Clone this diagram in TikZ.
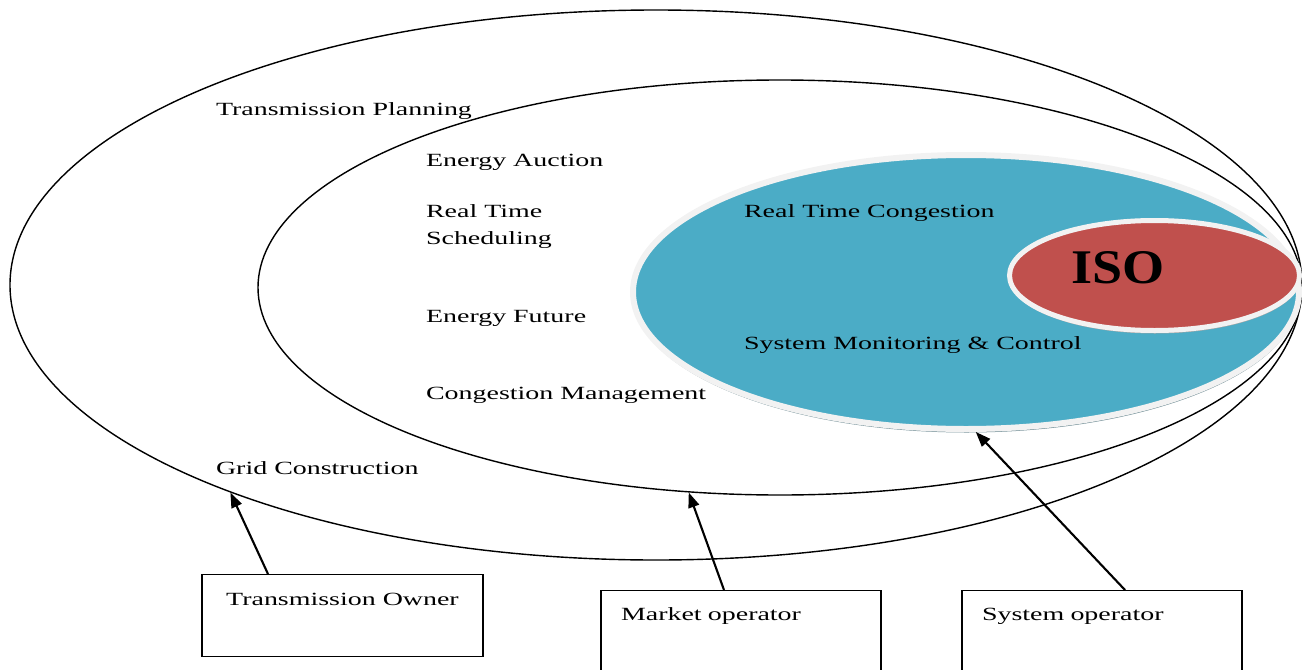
\documentclass[tikz,border=0pt]{standalone}
\usepackage{fontspec}
\setmainfont{Liberation Serif}[FakeStretch=1.5]
\newfontfamily\isofont{Liberation Serif}[FakeStretch=1.12]
\usetikzlibrary{arrows.meta,shapes.geometric,shadows}
\definecolor{isoblue}{HTML}{4BACC6}
\definecolor{isored}{HTML}{C0504D}
\definecolor{rimgray}{HTML}{F2F2F2}
\tikzset{
  ring/.style = {ellipse, draw=black, line width=0.8pt, inner sep=0pt},% anneau vide
  ring_b/.style = {ellipse, inner sep=0pt, fill=isoblue, draw=rimgray,
    line width=0.12cm, drop shadow={shadow xshift=0.01cm,
    shadow yshift=-0.07cm, fill=gray!70!isoblue, opacity=1}},% anneau bleu
  ring_r/.style = {ellipse, inner sep=0pt, fill=isored, draw=rimgray,
    line width=0.1cm, drop shadow={shadow xshift=0.01cm,
    shadow yshift=-0.06cm, fill=gray!70, opacity=1}},% anneau rouge
  lbl/.style = {inner sep=0pt, anchor=base west,
    font=\fontsize{10.6}{15.3}\selectfont},% texte
  role/.style = {draw=black, line width=0.7pt, inner xsep=0.4cm, inner ysep=0pt,
    font=\fontsize{10.6}{15.3}\selectfont, anchor=north}% boite d'acteur
}
\begin{document}
\begin{tikzpicture}[->,>={Triangle[length=0.3cm,width=0.22cm]},
                    line width=1.2pt]
  \useasboundingbox (0,0) rectangle (26.04,13.38);
  \clip (0,0) rectangle (26.04,13.38);
  % ellipses
  \node [ring, minimum width=25.84cm, minimum height=11cm] (outer) at (13.12,7.68) {};
  \node [ring, minimum width=20.88cm, minimum height=8.30cm] (mid) at (15.60,7.63) {};
  \node [ring_b, minimum width=13.32cm, minimum height=5.48cm] (blue) at (19.32,7.54) {};
  \node [ring_r, minimum width=5.80cm, minimum height=2.20cm] (iso) at (23.09,7.87) {};
  % textes
  \node [lbl] (tplan) at (4.30,11.08) {Transmission Planning};
  \node [lbl] (eauction) at (8.50,10.06) {Energy Auction};
  \node [lbl, anchor=north west, align=left] (rtsched) at (8.50,9.30) {Real Time\\Scheduling};
  \node [lbl] (efuture) at (8.50,6.94) {Energy Future};
  \node [lbl] (cmanage) at (8.50,5.40) {Congestion Management};
  \node [lbl] (gridcon) at (4.30,3.90) {Grid Construction};
  \node [lbl] (rtcong) at (14.86,9.04) {Real Time Congestion};
  \node [lbl] (sysmon) at (14.86,6.40) {System Monitoring \& Control};
  \node [inner sep=0pt, font=\isofont\bfseries\fontsize{27.5}{30}\selectfont]
    (isotxt) at (22.36,8.02) {ISO};
  % acteurs
  \node [role, minimum width=5.62cm, text height=0.62cm, text depth=1.02cm]
    (towner) at (6.85,1.90) {Transmission Owner};
  \node [role, text width=4.8cm, align=left, text height=0.6cm, text depth=1.5cm]
    (market) at (14.82,1.58) {Market operator};
  \node [role, text width=4.8cm, align=left, text height=0.6cm, text depth=1.5cm]
    (sysop) at (22.04,1.58) {System operator};
  % fleches
  \draw ([xshift=-1.49cm]towner.north) -- (outer.206.6);
  \draw ([xshift=-0.34cm]market.north) -- (mid.246.5);
  \draw ([xshift=0.46cm]sysop.north) -- (blue.274.9);
\end{tikzpicture}
\end{document}
